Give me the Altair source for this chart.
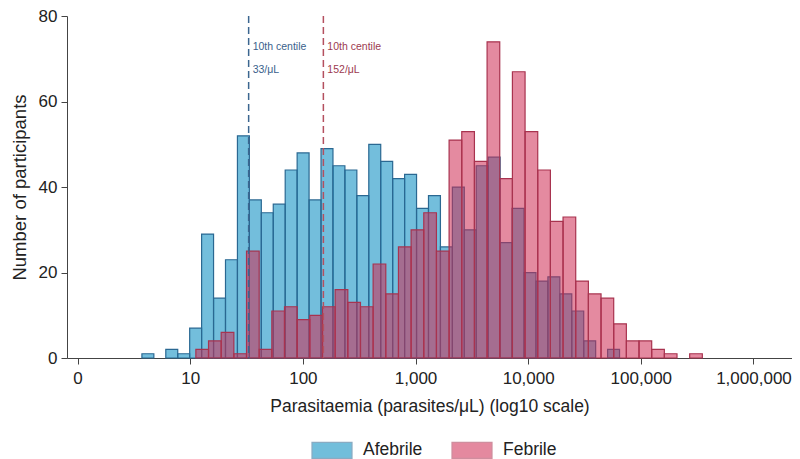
import math

import altair as alt
import pandas as pd

# bar heights, one per log10 bin (left to right)
afebrile_counts = [1, 0, 2, 1, 7, 29, 14, 23, 52, 37, 34, 36, 44, 48, 37, 49, 45, 44, 38, 50,
                   46, 42, 43, 35, 38, 26, 40, 30, 45, 47, 27, 35, 20, 18, 19, 15, 11, 4, 0, 2]
febrile_counts = [2, 4, 6, 1, 25, 2, 11, 12, 9, 10, 12, 16, 13, 12, 22, 15, 26, 30, 34, 25,
                  51, 53, 46, 74, 42, 67, 53, 44, 32, 33, 18, 15, 14, 8, 4, 4, 2, 1, 0, 1]

# each histogram has its own bins (log10 units)
afebrile_first_edge = 0.571
afebrile_bin_width = 0.106
febrile_first_edge = 1.050
febrile_bin_width = 0.1124

groups = ["Afebrile", "Febrile"]
x_tick_values = [0, 1, 2, 3, 4, 5, 6]
x_tick_labels = ["0", "10", "100", "1,000", "10,000", "100,000", "1,000,000"]
y_tick_values = [0, 20, 40, 60, 80]

centile_values = [33, 152]
centile_labels = ["33/μL", "152/μL"]

fill_colors = ["#0089bf", "#ce2a52"]
edge_colors = ["#2a6892", "#a8334f"]
line_colors = ["#3b6690", "#b4505f"]
text_colors = ["#3a5f8c", "#9c3a50"]
bar_alpha = 0.55

FONT = "Liberation Sans"


def histogram_rows(group, counts, first_edge, width):
    rows = []
    for i, n in enumerate(counts):
        if n == 0:
            continue
        start = first_edge + i * width
        rows.append({"group": group, "start": start, "end": start + width, "count": n})
    return rows


bars = pd.DataFrame(
    histogram_rows(groups[0], afebrile_counts, afebrile_first_edge, afebrile_bin_width)
    + histogram_rows(groups[1], febrile_counts, febrile_first_edge, febrile_bin_width)
)

centiles = pd.DataFrame(
    {
        "group": groups,
        "log_value": [math.log10(v) for v in centile_values],
        "label": centile_labels,
        "heading": ["10th centile", "10th centile"],
    }
)

label_expr = "[" + ",".join(f"'{t}'" for t in x_tick_labels) + "][datum.value]"

x_scale = alt.Scale(domain=[-0.094, 6.342], nice=False, zero=False)
y_scale = alt.Scale(domain=[0, 80.05], nice=False)

hist = (
    alt.Chart(bars)
    .mark_rect(strokeWidth=1.2, fillOpacity=bar_alpha)
    .encode(
        x=alt.X(
            "start:Q",
            scale=x_scale,
            title="Parasitaemia (parasites/μL) (log10 scale)",
            axis=alt.Axis(values=x_tick_values, labelExpr=label_expr, labelPadding=6, titlePadding=11),
        ),
        x2="end:Q",
        y=alt.Y(
            "count:Q",
            scale=y_scale,
            title="Number of participants",
            axis=alt.Axis(values=y_tick_values, titlePadding=9, titleFontSize=18.5),
        ),
        y2=alt.datum(0),
        fill=alt.Fill("group:N", title=None, scale=alt.Scale(domain=groups, range=fill_colors)),
        stroke=alt.Stroke("group:N", title=None, scale=alt.Scale(domain=groups, range=edge_colors)),
    )
)

lines = (
    alt.Chart(centiles)
    .mark_rule(strokeDash=[7, 4], strokeWidth=1.5)
    .encode(
        x=alt.X("log_value:Q", scale=x_scale),
        color=alt.Color("group:N", scale=alt.Scale(domain=groups, range=line_colors), legend=None),
    )
)

heading_text = (
    alt.Chart(centiles)
    .mark_text(align="left", baseline="middle", dx=4, fontSize=10.5, font=FONT)
    .encode(
        x=alt.X("log_value:Q", scale=x_scale),
        y=alt.datum(72.8, scale=y_scale),
        text="heading:N",
        color=alt.Color("group:N", scale=alt.Scale(domain=groups, range=text_colors), legend=None),
    )
)

value_text = (
    alt.Chart(centiles)
    .mark_text(align="left", baseline="middle", dx=4, fontSize=10.5, font=FONT)
    .encode(
        x=alt.X("log_value:Q", scale=x_scale),
        y=alt.datum(67.4, scale=y_scale),
        text="label:N",
        color=alt.Color("group:N", scale=alt.Scale(domain=groups, range=text_colors), legend=None),
    )
)

chart = (
    alt.layer(hist, lines, heading_text, value_text)
    .resolve_scale(color="independent")
    .properties(
        width=725,
        height=342,
        autosize=alt.AutoSizeParams(type="none"),
        padding={"left": 59, "top": 8, "right": 0, "bottom": 101},
    )
    .configure_view(stroke=None)
    .configure_axis(
        grid=False,
        labelFont=FONT,
        titleFont=FONT,
        labelFontSize=17,
        titleFontSize=17.5,
        titleFontWeight="normal",
        labelColor="#222222",
        titleColor="#222222",
        domainColor="#444444",
        tickColor="#444444",
        tickSize=6,
        labelPadding=4,
    )
    .configure_axisY(labelAngle=0)
    .configure_legend(
        orient="none",
        legendX=244,
        legendY=413,
        direction="horizontal",
        symbolType="M-1,-0.4L1,-0.4L1,0.4L-1,0.4Z",
        symbolSize=1600,
        symbolStrokeWidth=1.2,
        symbolOpacity=bar_alpha,
        labelFont=FONT,
        labelFontSize=17.5,
        labelColor="#222222",
        labelOffset=10,
        columnPadding=26,
    )
)

chart.save("out.html", embed_options={"renderer": "svg", "actions": False})
